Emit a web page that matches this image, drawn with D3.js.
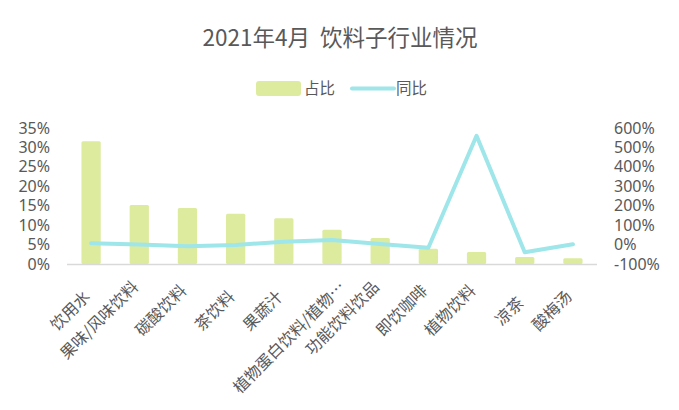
<!DOCTYPE html>
<html><head><meta charset="utf-8">
<script src="https://cdn.jsdelivr.net/npm/d3@7"></script>
<style>body{margin:0;background:#fff}svg{display:block;font-family:"Noto Sans CJK SC","Noto Sans",sans-serif}</style>
</head><body><svg id="c" width="679" height="410"></svg>
<script>
const categories = ["饮用水","果味/风味饮料","碳酸饮料","茶饮料","果蔬汁","植物蛋白饮料/植物…","功能饮料饮品","即饮咖啡","植物饮料","凉茶","酸梅汤"];
const shareValues = [31.6, 15.2, 14.4, 12.9, 11.8, 8.8, 6.7, 3.9, 3.1, 1.8, 1.5];
const yoyValues = [7, 0, -9, -2, 15, 24, 3, -16, 560, -40, 2];
const leftTicks = [0,5,10,15,20,25,30,35];
const rightTicks = [-100,0,100,200,300,400,500,600];
const seriesNames = ["占比","同比"];
const title = "2021年4月\u00a0\u00a0饮料子行业情况";

const svg = d3.select("#c");
const textColor = "#595959", barColor = "#DDEB9F", lineColor = "#9EE6E9";
const x = d3.scaleBand().domain(categories).range([67, 597]).paddingInner(0.6).paddingOuter(0.3);
const yL = d3.scaleLinear().domain([0,35]).range([264,128]);
const yR = d3.scaleLinear().domain([-100,600]).range([264,128]);

svg.append("text").attr("x",340).attr("y",46).attr("text-anchor","middle")
  .attr("font-size",22.5).attr("fill",textColor).text(title);

// legend
svg.append("rect").attr("x",256).attr("y",81).attr("width",45).attr("height",15).attr("rx",3).attr("fill",barColor);
svg.append("text").attr("x",304).attr("y",94).attr("font-size",15.5).attr("fill",textColor).text(seriesNames[0]);
svg.append("line").attr("x1",352).attr("x2",394).attr("y1",88.5).attr("y2",88.5).attr("stroke",lineColor).attr("stroke-width",4).attr("stroke-linecap","round");
svg.append("text").attr("x",396).attr("y",94).attr("font-size",15.5).attr("fill",textColor).text(seriesNames[1]);

// bars
svg.append("g").selectAll("rect").data(shareValues).join("rect")
  .attr("x",(d,i)=>x(categories[i])).attr("width",x.bandwidth())
  .attr("y",d=>yL(d)).attr("height",d=>yL(0)-yL(d)).attr("fill",barColor).attr("rx",1.5);

// x axis line
svg.append("line").attr("x1",67).attr("x2",597).attr("y1",264.5).attr("y2",264.5).attr("stroke","#D9D9D9").attr("stroke-width",1.5);

// left axis
const gl = svg.append("g").attr("transform","translate(67,0)")
  .call(d3.axisLeft(yL).tickValues(leftTicks).tickFormat(d=>d+"%").tickSize(0).tickPadding(17));
gl.select(".domain").remove();
gl.selectAll("text").attr("font-size",16).attr("fill",textColor).attr("font-family","'Noto Sans','DejaVu Sans',sans-serif");

// right axis
const gr = svg.append("g").attr("transform","translate(597,0)")
  .call(d3.axisRight(yR).tickValues(rightTicks).tickFormat(d=>d+"%").tickSize(0).tickPadding(17));
gr.select(".domain").remove();
gr.selectAll("text").attr("font-size",16).attr("fill",textColor).attr("font-family","'Noto Sans','DejaVu Sans',sans-serif");

// line
const line = d3.line().x((d,i)=>x(categories[i])+x.bandwidth()/2).y(d=>yR(d));
svg.append("path").datum(yoyValues).attr("d",line).attr("fill","none")
  .attr("stroke",lineColor).attr("stroke-width",4).attr("stroke-linejoin","round").attr("stroke-linecap","round");

// x labels (rotated, positioned like the spreadsheet layout)
const fs = 16;
const approxWidth = s => Array.from(s).reduce((a,c)=>a+(c.charCodeAt(0)>=0x2000?fs:fs*0.4),0);
svg.append("g").selectAll("text").data(categories).join("text")
  .attr("text-anchor","end").attr("font-size",fs).attr("fill",textColor).text(d=>d)
  .attr("transform",d=>{
    const w = approxWidth(d);
    const bx = x(d)+x.bandwidth()/2 + Math.max(0,(w-110)*0.35);
    const by = Math.max(288, 316 - 0.38*w);
    return `translate(${bx},${by}) rotate(-45)`;
  });
</script></body></html>
